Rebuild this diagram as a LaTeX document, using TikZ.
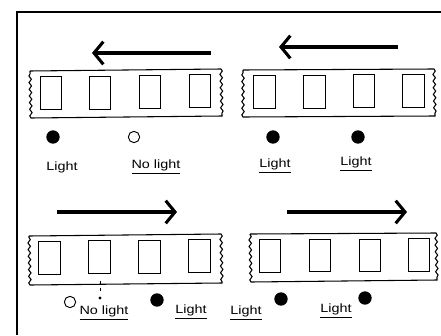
\documentclass[tikz,border=0pt]{standalone}
\usepackage{fontspec}
\setmainfont{Liberation Sans}
\newfontfamily\lblfont[FakeStretch=1.2]{Liberation Sans}
\usetikzlibrary{arrows.meta,decorations.pathmorphing}
\begin{document}
\begin{tikzpicture}[x=0.75pt,y=-0.75pt,
  frame/.style={line width=1.4pt},
  strip/.style={line width=0.8pt},
  wavy/.style={decoration={snake,amplitude=0.9pt,segment length=5pt}},
  sq/.style={draw,line width=0.8pt,minimum width=16pt,minimum height=24.5pt,inner sep=0pt},
  fdot/.style={circle,fill=black,minimum size=10pt,inner sep=0pt},
  odot/.style={circle,draw,line width=0.7pt,minimum size=8.5pt,inner sep=0pt},
  lbl/.style={font=\lblfont\fontsize{9}{10}\selectfont,inner sep=1pt},
  bigarrow/.style={line width=2.3pt,-{Straight Barb[length=7pt,width=17pt,line width=2.3pt]}}
]
\useasboundingbox (0,0) rectangle (441,335);
% frame
\draw[frame] (441,12) -- (17,12) -- (17,335);

% arrows
\coordinate (a1s) at (211,53); \coordinate (a1e) at (92,53);
\coordinate (a2s) at (398,47); \coordinate (a2e) at (279,47);
\coordinate (a3s) at (57,212); \coordinate (a3e) at (177,212);
\coordinate (a4s) at (287,212); \coordinate (a4e) at (407,212);
\draw[bigarrow] (a1s) -- (a1e);
\draw[bigarrow] (a2s) -- (a2e);
\draw[bigarrow] (a3s) -- (a3e);
\draw[bigarrow] (a4s) -- (a4e);

% strips
\draw[strip] (30,71) -- (221,69) decorate[wavy]{ -- (222,116)} -- (31,118) decorate[wavy]{ -- (30,71)};
\draw[strip] (243,70) -- (434,69) decorate[wavy]{ -- (435,116)} -- (243,117) decorate[wavy]{ -- (243,70)};
\draw[strip] (29,236) -- (221,234) decorate[wavy]{ -- (222,283)} -- (30,285) decorate[wavy]{ -- (29,236)};
\draw[strip] (250,234) -- (436,233) decorate[wavy]{ -- (437,280)} -- (251,282) decorate[wavy]{ -- (250,234)};

% squares top-left
\node[sq] (s11) at (51,93) {};
\node[sq] (s12) at (100,93) {};
\node[sq] (s13) at (150,92) {};
\node[sq] (s14) at (200,91) {};
% top-right
\node[sq] (s21) at (264.5,92) {};
\node[sq] (s22) at (314.5,92) {};
\node[sq] (s23) at (364,91) {};
\node[sq] (s24) at (413.5,91) {};
% bottom-left
\node[sq] (s31) at (49.5,258) {};
\node[sq] (s32) at (99.5,257) {};
\node[sq] (s33) at (149.5,257) {};
\node[sq] (s34) at (199.5,256) {};
% bottom-right
\node[sq] (s41) at (270,256) {};
\node[sq] (s42) at (320,255.5) {};
\node[sq] (s43) at (370,255.5) {};
\node[sq] (s44) at (419,255) {};

% dots
\node[fdot] (d11) at (53,137) {};
\node[odot] (d12) at (134,137) {};
\node[fdot] (d21) at (273,137) {};
\node[fdot] (d22) at (358,137) {};
\node[odot] (d31) at (70,302) {};
\node[fdot] (d32) at (157,300) {};
\node[fdot] (d41) at (281,299) {};
\node[fdot] (d42) at (365,298) {};

% small mark
\coordinate (m1) at (100,281); \coordinate (m2) at (100,291);
\draw[line width=0.6pt,densely dashed] (m1) -- (m2);
\node[circle,fill=black,minimum size=2.5pt,inner sep=0pt] (m3) at (100,298) {};

% labels
\node[lbl] (l11) at (62,167) {Light};
\node[lbl] (l12) at (156,167) {\underline{No light}};
\node[lbl] (l21) at (275,166) {\underline{Light}};
\node[lbl] (l22) at (356,164) {\underline{Light}};
\node[lbl] (l31) at (104,313) {\underline{No light}};
\node[lbl] (l32) at (191,312) {\underline{Light}};
\node[lbl] (l41) at (246,313) {\underline{Light}};
\node[lbl] (l42) at (336,311) {\underline{Light}};
\end{tikzpicture}
\end{document}
